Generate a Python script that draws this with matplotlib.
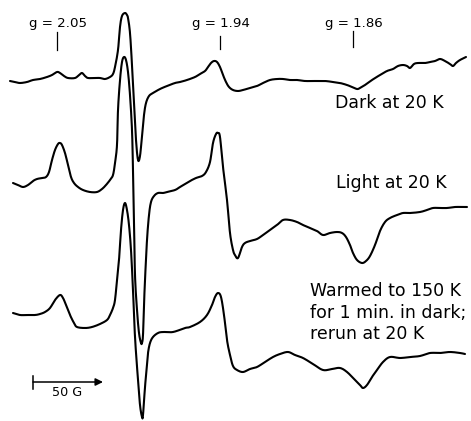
import numpy as np
import matplotlib
matplotlib.use("Agg")
import matplotlib.pyplot as plt

# Field position (plot units along the sweep) and recorder deflection (downward units)
dark_field = [10, 15, 20, 27, 33, 40, 47, 52, 57, 60, 64, 68, 75, 79, 82, 85, 88, 95, 100, 105,
              110, 113, 115, 118, 120, 122, 125, 127, 128, 130, 132, 134, 136, 138, 140, 142, 144,
              146, 149, 153, 160, 167, 175, 180, 187, 195, 200, 205, 208, 211, 214, 217, 220, 223,
              226, 229, 233, 238, 243, 250, 257, 263, 270, 277, 283, 290, 297, 305, 315, 325, 333,
              340, 347, 352, 357, 360, 365, 372, 380, 387, 393, 398, 403, 407, 410, 414, 418, 425,
              430, 435, 440, 445, 450, 453, 456, 460, 466]
dark_signal = [81, 82, 83, 82, 80, 79, 77, 75, 72, 73, 76, 78, 78, 75, 73, 76, 78, 78, 78, 79,
               77, 74, 67, 50, 27, 16, 13, 15, 18, 33, 65, 103, 140, 160, 156, 136, 115,
               103, 96, 93, 89, 86, 83, 82, 80, 77, 74, 71, 67, 63, 61, 62, 67, 75,
               82, 87, 90, 91, 90, 88, 86, 83, 80, 79, 79, 80, 80, 81, 81, 81, 82,
               83, 85, 87, 89, 88, 85, 80, 75, 71, 69, 66, 65, 66, 68, 64, 63, 63,
               62, 61, 59, 61, 64, 66, 63, 60, 57]

light_field = [13, 18, 23, 28, 33, 37, 42, 46, 49, 52, 55, 58, 60, 62, 65, 68, 71, 74, 78, 83,
               90, 97, 102, 106, 110, 113, 115, 117, 118, 120, 122, 124, 126, 128, 130, 132, 133,
               134, 135, 137, 139, 141, 142, 143, 144, 145, 147, 149, 151, 154, 158, 163, 167, 175,
               180, 185, 190, 196, 202, 206, 210, 213, 216, 218, 220, 223, 227, 230, 233, 235, 238,
               242, 245, 250, 257, 263, 270, 277, 283, 290, 297, 303, 310, 317, 323, 330, 337, 342,
               346, 350, 353, 357, 362, 366, 370, 375, 380, 385, 390, 397, 403, 410, 420, 427, 433,
               440, 447, 455, 463, 467]
light_signal = [183, 185, 187, 185, 181, 179, 178, 177, 172, 160, 150, 144, 143, 145, 153, 165, 177, 183, 187, 190,
                192, 192, 189, 185, 180, 175, 163, 145, 110, 80, 62, 57, 60, 72, 95, 130, 170,
                220, 275, 310, 333, 343, 343, 335, 305, 280, 240, 215, 202, 196, 193, 193, 192, 190,
                187, 184, 181, 178, 176, 172, 162, 143, 134, 133, 137, 167, 200, 233, 250, 255, 258,
                247, 243, 241, 239, 235, 230, 225, 220, 220, 222, 225, 228, 231, 235, 233, 232, 233,
                237, 245, 253, 260, 263, 261, 256, 245, 231, 222, 218, 215, 213, 213, 212, 210, 208,
                208, 208, 207, 207, 207]

warm_field = [13, 20, 27, 35, 40, 45, 50, 55, 60, 63, 66, 70, 74, 77, 85, 92, 100, 107, 110, 113,
              115, 117, 119, 121, 123, 125, 127, 129, 131, 133, 135, 138, 140, 142, 143, 145, 147,
              148, 150, 153, 158, 163, 173, 185, 190, 200, 207, 212, 215, 218, 221, 224, 227, 230,
              233, 237, 243, 250, 257, 265, 273, 280, 288, 295, 303, 313, 323, 332, 340, 347, 355,
              360, 363, 367, 372, 377, 383, 390, 400, 410, 420, 430, 440, 450, 460, 465]
warm_signal = [313, 315, 315, 315, 314, 312, 308, 300, 295, 298, 305, 315, 323, 327, 328, 327, 324, 320, 315, 308,
               300, 280, 260, 230, 210, 203, 210, 225, 250, 290, 337, 380, 405, 417, 415, 387, 365,
               353, 343, 337, 333, 332, 332, 328, 327, 322, 315, 305, 297, 293, 297, 315, 340, 355,
               366, 370, 372, 369, 367, 362, 357, 354, 352, 355, 358, 364, 370, 369, 368, 372, 380,
               385, 388, 385, 377, 370, 362, 357, 358, 357, 356, 353, 353, 352, 353, 354]

g_labels = ["g = 2.05", "g = 1.94", "g = 1.86"]
g_positions = [57, 220, 353]

trace_labels = ["Dark at 20 K", "Light at 20 K"]
warm_label_lines = ["Warmed to 150 K", "for 1 min. in dark;", "rerun at 20 K"]
scale_label = "50 G"
scale_length = 70  # plot units spanning 50 G


def smooth(xs, ys, n=12):
    """Catmull-Rom curve through the recorded points."""
    p = np.column_stack([xs, ys]).astype(float)
    p = np.vstack([p[0], p, p[-1]])
    out = []
    t = np.linspace(0, 1, n, endpoint=False)[:, None]
    for i in range(1, len(p) - 2):
        p0, p1, p2, p3 = p[i - 1], p[i], p[i + 1], p[i + 2]
        seg = 0.5 * ((2 * p1) + (-p0 + p2) * t + (2 * p0 - 5 * p1 + 4 * p2 - p3) * t ** 2
                     + (-p0 + 3 * p1 - 3 * p2 + p3) * t ** 3)
        out.append(seg)
    out.append(p[-2][None, :])
    c = np.vstack(out)
    return c[:, 0], c[:, 1]


fig = plt.figure(figsize=(4.71, 4.21), dpi=100)
ax = fig.add_axes([0, 0, 1, 1])
ax.set_xlim(0, 471)
ax.set_ylim(421, 0)
ax.axis("off")

for fx, sy in [(dark_field, dark_signal), (light_field, light_signal), (warm_field, warm_signal)]:
    x, y = smooth(fx, sy)
    ax.plot(x, y, color="black", lw=1.5, solid_capstyle="round", solid_joinstyle="round")

# g-value markers
for lab, gx, top, bottom in zip(g_labels, g_positions, [32, 36, 31], [50, 49, 47]):
    ax.plot([gx, gx], [top, bottom], color="black", lw=0.9)
    ax.text(gx + 1, 23, lab, ha="center", va="center", fontsize=9.6, family="DejaVu Sans")

# trace captions
label_size = 12.5
ax.text(335, 103, trace_labels[0], ha="left", va="center", fontsize=label_size, family="DejaVu Sans")
ax.text(336, 183, trace_labels[1], ha="left", va="center", fontsize=label_size, family="DejaVu Sans")
for line, ty in zip(warm_label_lines, [291, 313, 334]):
    ax.text(310, ty, line, ha="left", va="center", fontsize=label_size, family="DejaVu Sans")

# field scale bar
x0, yb = 33, 382
ax.plot([x0, x0], [376, 389], color="black", lw=1.1)
ax.annotate("", xy=(x0 + scale_length, yb), xytext=(x0, yb),
            arrowprops=dict(arrowstyle="-|>", color="black", lw=1.1,
                            mutation_scale=11, shrinkA=0, shrinkB=0))
ax.text(x0 + 34, 393, scale_label, ha="center", va="center", fontsize=9.2, family="DejaVu Sans")

fig.savefig("out.png", dpi=100, facecolor="white")
